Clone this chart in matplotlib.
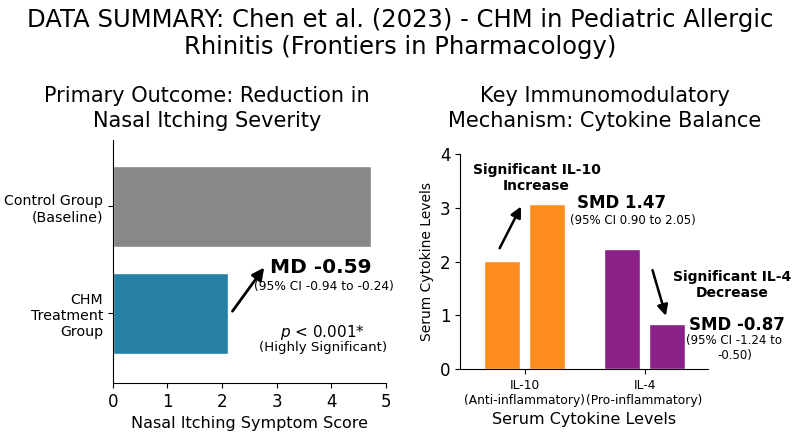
import numpy as np
import matplotlib
matplotlib.use("Agg")
import matplotlib.pyplot as plt

plt.rcParams['font.family'] = ['DejaVu Sans']

# data
groups = ['CHM\nTreatment\nGroup', 'Control Group\n(Baseline)']
itch_scores = [2.10, 4.72]
group_colors = ['#2680A5', '#888888']

cytokines = ['IL-10\n(Anti-inflammatory)', 'IL-4\n(Pro-inflammatory)']
control_levels = [2.01, 2.23]
chm_levels = [3.07, 0.84]
cytokine_colors = ['#FF8C1F', '#8B2088']

fig = plt.figure(figsize=(8, 4.36), dpi=100)

fig.text(0.5, 0.955, 'DATA SUMMARY: Chen et al. (2023) - CHM in Pediatric Allergic',
         ha='center', va='center', fontsize=17.5)
fig.text(0.5, 0.893, 'Rhinitis (Frontiers in Pharmacology)',
         ha='center', va='center', fontsize=17.5)

# ---- left panel: nasal itching
ax1 = fig.add_axes([0.141, 0.1216, 0.3415, 0.557])
ax1.barh(np.arange(len(groups)), itch_scores, height=0.76, color=group_colors,
         edgecolor='white', linewidth=1)
ax1.set_yticks(np.arange(len(groups)))
ax1.set_yticklabels(groups, fontsize=10.2)
ax1.set_xlim(0, 5)
ax1.set_ylim(-0.65, 1.62)
ax1.tick_params(axis='x', labelsize=12)
ax1.set_xlabel('Nasal Itching Symptom Score', fontsize=11.5)
for s in ['top', 'right']:
    ax1.spines[s].set_visible(False)

fig.text(0.259, 0.780, 'Primary Outcome: Reduction in', ha='center', va='center', fontsize=15)
fig.text(0.259, 0.723, 'Nasal Itching Severity', ha='center', va='center', fontsize=15)

ax1.annotate('', xy=(2.8, 0.45), xytext=(2.16, 0.0),
             arrowprops=dict(arrowstyle='-|>', color='black', lw=2, mutation_scale=18))
ax1.text(3.80, 0.425, 'MD -0.59', ha='center', va='center', fontsize=14.5, fontweight='bold')
ax1.text(3.86, 0.25, '(95% CI -0.94 to -0.24)', ha='center', va='center', fontsize=8.8)
ax1.text(3.84, -0.18, '$p$ < 0.001*', ha='center', va='center', fontsize=11)
ax1.text(3.84, -0.317, '(Highly Significant)', ha='center', va='center', fontsize=9.6)

# ---- right panel: cytokines
ax2 = fig.add_axes([0.575, 0.1537, 0.31, 0.493])
x = np.arange(len(cytokines))
off = 0.19
ax2.bar(x - off, control_levels, width=0.3, color=cytokine_colors, edgecolor='white', linewidth=1)
ax2.bar(x + off, chm_levels, width=0.3, color=cytokine_colors, edgecolor='white', linewidth=1)
ax2.set_xticks(x)
ax2.set_xticklabels(cytokines, fontsize=8.8)
ax2.set_xlim(-0.54, 1.53)
ax2.set_ylim(0, 4)
ax2.set_yticks([0, 1, 2, 3, 4])
ax2.tick_params(axis='y', labelsize=12)
ax2.set_xlabel('Serum Cytokine Levels', fontsize=11.5)
ax2.set_ylabel('Serum Cytokine Levels', fontsize=10)
for s in ['top', 'right']:
    ax2.spines[s].set_visible(False)

fig.text(0.756, 0.780, 'Key Immunomodulatory', ha='center', va='center', fontsize=15)
fig.text(0.756, 0.723, 'Mechanism: Cytokine Balance', ha='center', va='center', fontsize=15)

ax2.annotate('', xy=(-0.02, 3.07), xytext=(-0.22, 2.2),
             arrowprops=dict(arrowstyle='-|>', color='black', lw=1.8, mutation_scale=16))
ax2.text(0.10, 3.56, 'Significant IL-10\nIncrease', ha='center', va='center',
         fontsize=10, fontweight='bold', linespacing=1.2)
ax2.text(0.81, 3.09, 'SMD 1.47', ha='center', va='center', fontsize=12, fontweight='bold')
ax2.text(0.90, 2.77, '(95% CI 0.90 to 2.05)', ha='center', va='center', fontsize=8.5)

ax2.annotate('', xy=(1.185, 0.94), xytext=(1.06, 1.89),
             arrowprops=dict(arrowstyle='-|>', color='black', lw=1.8, mutation_scale=16))
ax2.text(1.73, 1.56, 'Significant IL-4\nDecrease', ha='center', va='center',
         fontsize=10, fontweight='bold', linespacing=1.2)
ax2.text(1.77, 0.82, 'SMD -0.87', ha='center', va='center', fontsize=12, fontweight='bold')
ax2.text(1.75, 0.39, '(95% CI -1.24 to\n-0.50)', ha='center', va='center', fontsize=8.5)

fig.savefig('out.png', dpi=100)
